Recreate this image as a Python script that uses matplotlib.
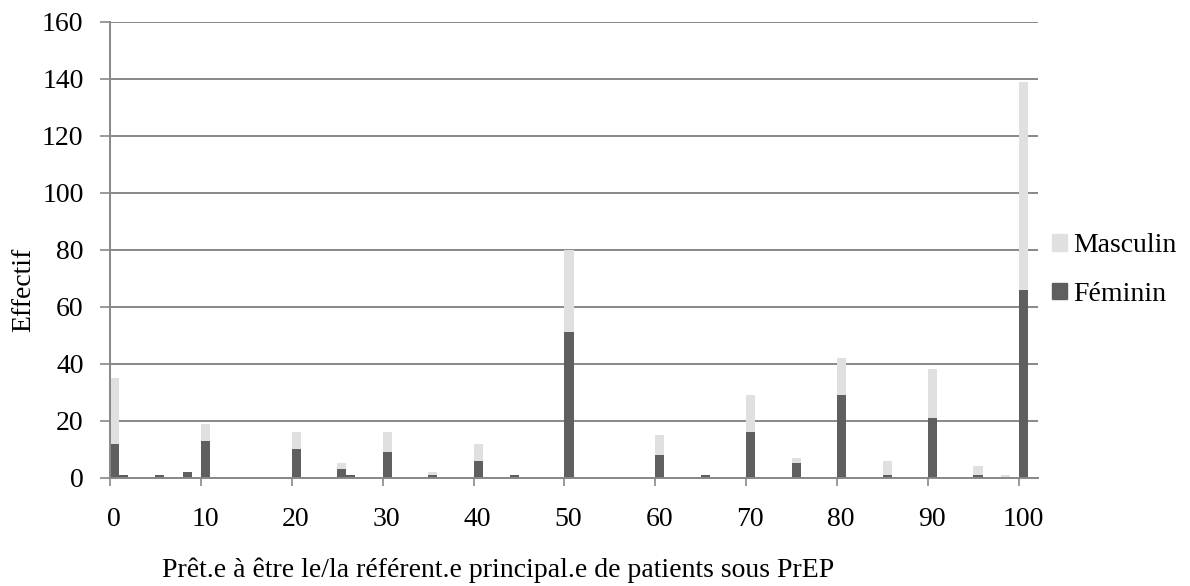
import matplotlib
matplotlib.use("Agg")
import matplotlib.pyplot as plt
from matplotlib.patches import Patch
import numpy as np

# score given (0-100) and counts per sex
scores = [0, 1, 5, 8, 10, 20, 25, 26, 30, 35, 40, 44, 50, 60, 65, 70, 75, 80, 85, 90, 95, 98, 100]
feminin = [12, 1, 1, 2, 13, 10, 3, 1, 9, 1, 6, 1, 51, 8, 1, 16, 5, 29, 1, 21, 1, 0, 66]
masculin = [23, 0, 0, 0, 6, 6, 2, 0, 7, 1, 6, 0, 29, 7, 0, 13, 2, 13, 5, 17, 3, 1, 73]
x_ticks = list(range(0, 101, 10))
y_ticks = list(range(0, 161, 20))

dark = "#5f5f5f"
light = "#e0e0e0"
axis_grey = "#888888"

plt.rcParams["font.family"] = ["Liberation Serif", "DejaVu Serif"]
plt.rcParams["font.size"] = 20

fig = plt.figure(figsize=(11.9, 5.86), dpi=100)
ax = fig.add_axes([0.0924, 0.1848, 0.7799, 0.7777])

x = np.array(scores)
ax.bar(x, feminin, width=1.0, align="edge", color=dark, linewidth=0, zorder=3, label="Féminin")
ax.bar(x, masculin, width=1.0, align="edge", bottom=feminin, color=light, linewidth=0, zorder=3,
       label="Masculin")

ax.set_xlim(0, 102.1)
ax.set_ylim(0, 160)

# tick marks at the values, labels slightly shifted like the original
ax.set_xticks(x_ticks, minor=True)
ax.set_xticks([t + 0.45 for t in x_ticks])
ax.set_xticklabels([str(t) for t in x_ticks])
ax.tick_params(axis="x", which="major", length=0, pad=21)
ax.tick_params(axis="x", which="minor", length=6, width=1.2, color=axis_grey, direction="out")
ax.set_yticks(y_ticks)
ax.tick_params(axis="y", length=7, width=1.2, color=axis_grey, direction="out", pad=12)

ax.yaxis.grid(True, color=axis_grey, linewidth=1.4, zorder=0)
ax.set_axisbelow(True)
for s in ["top", "right"]:
    ax.spines[s].set_visible(False)
for s in ["left", "bottom"]:
    ax.spines[s].set_color(axis_grey)
    ax.spines[s].set_linewidth(1.4)
    ax.spines[s].set_zorder(4)

ax.set_ylabel("Effectif")
ax.yaxis.set_label_coords(-0.079, 0.412)
ax.set_xlabel("Prêt.e à être le/la référent.e principal.e de patients sous PrEP")
ax.xaxis.set_label_coords(0.418, -0.175)

handles = [Patch(color=light, label="Masculin"), Patch(color=dark, label="Féminin")]
ax.legend(handles=handles, loc="center left", bbox_to_anchor=(1.015, 0.456), frameon=False,
          borderpad=0, borderaxespad=0,
          handlelength=0.55, handleheight=0.55, handletextpad=0.22, labelspacing=0.85)

plt.savefig("out.png", dpi=100)
